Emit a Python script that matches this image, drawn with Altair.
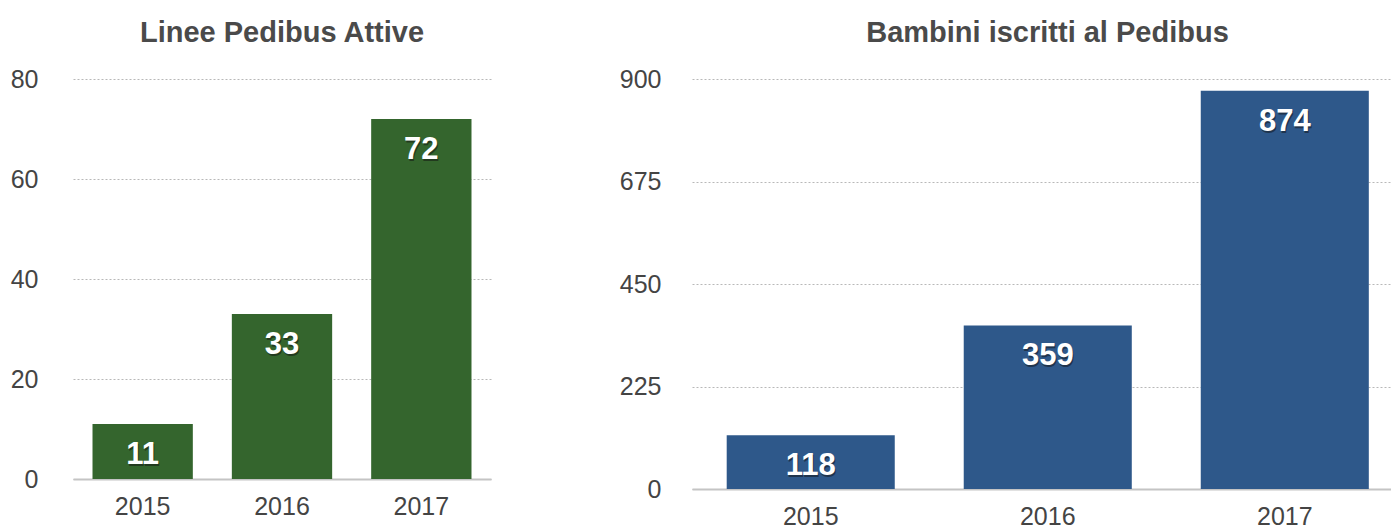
import altair as alt
import pandas as pd

anni = ["2015", "2016", "2017"]
linee = [11, 33, 72]
bambini = [118, 359, 874]

df1 = pd.DataFrame({"anno": anni, "valore": linee})
df2 = pd.DataFrame({"anno": anni, "valore": bambini})

TXT = "#444444"
FONT = "Liberation Sans"


def panel(df, title, color, dom, ticks, w, h, pin, pout, align, lpad, tdx):
    base = alt.Chart(df).encode(
        x=alt.X(
            "anno:N",
            sort=anni,
            scale=alt.Scale(paddingInner=pin, paddingOuter=pout, align=align),
            axis=alt.Axis(
                title=None, labelAngle=0, ticks=False, domain=True,
                domainColor="#c4c4c4", domainWidth=2, labelFont=FONT,
                labelFontSize=25, labelColor=TXT, labelPadding=15,
            ),
        ),
        y=alt.Y(
            "valore:Q",
            scale=alt.Scale(domain=dom, nice=False),
            axis=alt.Axis(
                title=None, values=ticks, domain=False, ticks=False,
                grid=True, gridDash=[2, 2], gridColor="#b8b8b8",
                labelFont=FONT, labelFontSize=25, labelColor=TXT,
                labelPadding=lpad,
            ),
        ),
    )
    bars = base.mark_bar(color=color)
    shadow = base.mark_text(
        baseline="middle", dy=33, dx=1, font=FONT, fontSize=31,
        fontWeight="bold", color="#111111", opacity=0.5,
    ).encode(text="valore:Q")
    label = base.mark_text(
        baseline="middle", dy=31, font=FONT, fontSize=31,
        fontWeight="bold", color="white",
    ).encode(text="valore:Q")
    return (bars + shadow + label).properties(
        width=w, height=h,
        title=alt.TitleParams(
            text=title, fontSize=29, fontWeight="bold", color="#4a4a4a",
            font=FONT, offset=19, anchor="middle", dx=tdx,
        ),
    )


left = panel(df1, "Linee Pedibus Attive", "#34652D", [0, 80],
             [0, 20, 40, 60, 80], 418, 400, 0.28, 0.14, 0.5, 35, 0)
right = panel(df2, "Bambini iscritti al Pedibus", "#2E588A", [0, 900],
              [0, 225, 450, 675, 900], 699, 410, 0.291, 0.12, 0.61, 31, 6)

chart = alt.hconcat(left, right, spacing=128).properties(
    padding={"left": 2, "top": 11, "right": 0, "bottom": 0}
).configure_view(stroke=None)

chart.save("out.html", embed_options={"renderer": "svg", "actions": False})
